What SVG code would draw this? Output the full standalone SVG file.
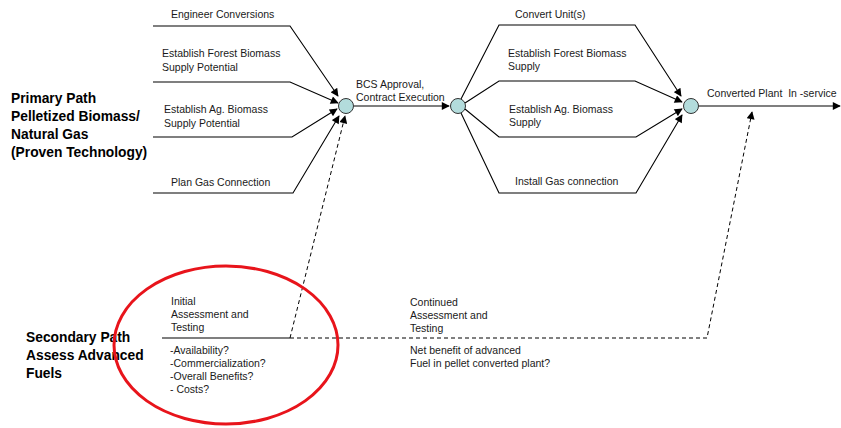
<svg xmlns="http://www.w3.org/2000/svg" width="841" height="428" viewBox="0 0 841 428">
<defs>
<marker id="ah" viewBox="0 0 10 10" refX="9" refY="5" markerWidth="9" markerHeight="8" markerUnits="userSpaceOnUse" orient="auto">
<path d="M0,0 L10,5 L0,10 Z" fill="#000"/>
</marker>
</defs>
<style>
.t{font-family:"Liberation Sans",Arial,sans-serif;font-size:10.5px;fill:#1a1a1a}
.b{font-family:"Liberation Sans",Arial,sans-serif;font-size:13.8px;font-weight:bold;fill:#000}
.ln{fill:none;stroke:#000;stroke-width:1.1}
.ar{fill:none;stroke:#000;stroke-width:1.1;marker-end:url(#ah)}
.da{fill:none;stroke:#000;stroke-width:1;stroke-dasharray:4 3}
.nd{fill:#b3dcdc;stroke:#333;stroke-width:1}
</style>
<rect width="841" height="428" fill="#fff"/>
<g id="labels">
<text class="b" x="11" y="103">Primary Path</text>
<text class="b" x="11" y="121">Pelletized Biomass/</text>
<text class="b" x="11" y="139">Natural Gas</text>
<text class="b" x="11" y="157">(Proven Technology)</text>
<text class="b" x="26" y="342">Secondary Path</text>
<text class="b" x="26" y="360">Assess Advanced</text>
<text class="b" x="26" y="378">Fuels</text>
</g>
<g id="connectors">
<polyline class="ar" points="153,26 290,26 338,96"/>
<polyline class="ar" points="153,82 290,82 338,103"/>
<polyline class="ar" points="153,137 292,137 337,109"/>
<polyline class="ar" points="153,193 293,193 339,116"/>
<line class="ln" x1="162" y1="338" x2="290" y2="338"/>
<polyline class="da" points="290,338 345,116" marker-end="url(#ah)"/>
<polyline class="da" points="290,338 707,338 752,112" marker-end="url(#ah)"/>
<line class="ar" x1="354" y1="106" x2="449" y2="106"/>
<polyline class="ar" points="461,99 499,25 635,25 681,96"/>
<polyline class="ar" points="465,103 499,81 635,81 682,102"/>
<polyline class="ar" points="465,109 499,137 636,137 682,109"/>
<polyline class="ar" points="461,113 499,193 636,193 682,115"/>
<line class="ar" x1="699" y1="106" x2="840" y2="106"/>
</g>
<g id="node-bcs">
<circle class="nd" cx="346" cy="106" r="7.5"/>
<text class="t" x="356" y="88">BCS Approval,</text>
<text class="t" x="356" y="101">Contract Execution</text>
</g>
<g id="node-mid">
<circle class="nd" cx="458" cy="106" r="7.5"/>
</g>
<g id="node-final">
<circle class="nd" cx="691" cy="106" r="7.5"/>
<text class="t" x="707" y="97">Converted Plant&#160; In -service</text>
</g>
<g id="task-engineer"><text class="t" x="171" y="18">Engineer Conversions</text></g>
<g id="task-forest"><text class="t" x="162" y="57">Establish Forest Biomass</text><text class="t" x="162" y="71">Supply Potential</text></g>
<g id="task-ag"><text class="t" x="164" y="113">Establish Ag. Biomass</text><text class="t" x="164" y="127">Supply Potential</text></g>
<g id="task-gas"><text class="t" x="171" y="186">Plan Gas Connection</text></g>
<g id="task-convert"><text class="t" x="515" y="18">Convert Unit(s)</text></g>
<g id="task-forest2"><text class="t" x="508" y="57">Establish Forest Biomass</text><text class="t" x="508" y="70">Supply</text></g>
<g id="task-ag2"><text class="t" x="509" y="113">Establish Ag. Biomass</text><text class="t" x="509" y="126">Supply</text></g>
<g id="task-gas2"><text class="t" x="515" y="185">Install Gas connection</text></g>
<g id="task-initial">
<text class="t" x="171" y="305">Initial</text>
<text class="t" x="171" y="318">Assessment and</text>
<text class="t" x="171" y="331">Testing</text>
<text class="t" x="170" y="354">-Availability?</text>
<text class="t" x="170" y="367">-Commercialization?</text>
<text class="t" x="170" y="380">-Overall Benefits?</text>
<text class="t" x="170" y="393">- Costs?</text>
</g>
<g id="task-continued">
<text class="t" x="410" y="306">Continued</text>
<text class="t" x="410" y="319">Assessment and</text>
<text class="t" x="410" y="332">Testing</text>
<text class="t" x="410" y="354">Net benefit of advanced</text>
<text class="t" x="410" y="367">Fuel in pellet converted plant?</text>
</g>
<g id="highlight">
<ellipse cx="226" cy="345" rx="112" ry="79" fill="none" stroke="#e8141b" stroke-width="3"/>
</g>
</svg>
